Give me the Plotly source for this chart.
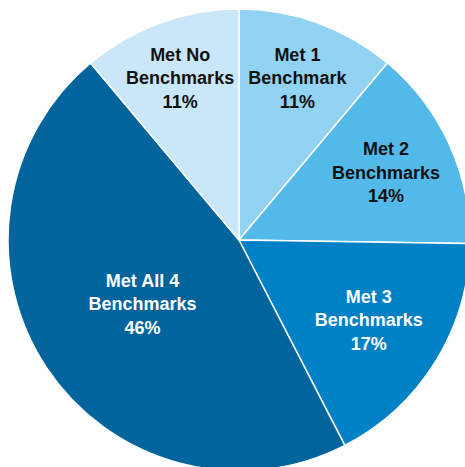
import plotly.graph_objects as go

labels = ["Met 1<br>Benchmark", "Met 2<br>Benchmarks", "Met 3<br>Benchmarks",
          "Met All 4<br>Benchmarks", "Met No<br>Benchmarks"]
values = [11, 14, 17, 46, 11]
colors = ["#92D3F3", "#52B9E9", "#0080C5", "#01649C", "#C9E7F8"]
text_colors = ["#111111", "#111111", "#FFFFFF", "#FFFFFF", "#111111"]

W, H = 470, 471
fig = go.Figure(go.Pie(
    labels=labels,
    values=values,
    sort=False,
    direction="clockwise",
    rotation=0,
    marker=dict(colors=colors, line=dict(color="#FFFFFF", width=1.5)),
    texttemplate="<b>%{label}<br>%{value}%</b>",
    textinfo="text",
    textposition="inside",
    insidetextorientation="horizontal",
    textfont=dict(family="Liberation Sans, Arial, sans-serif", size=18, color=text_colors),
    hoverinfo="skip",
    showlegend=False,
    domain=dict(x=[8 / W, 1], y=[0, (H - 9) / H]),
))
fig.update_layout(
    width=W, height=H,
    margin=dict(l=0, r=0, t=0, b=0),
    paper_bgcolor="white",
    plot_bgcolor="white",
    uniformtext=dict(minsize=18, mode="show"),
)
fig.write_html("out.html", config={"displayModeBar": False},
               post_script="document.body.style.margin='0';document.body.style.overflow='hidden';document.documentElement.style.overflow='hidden';")
